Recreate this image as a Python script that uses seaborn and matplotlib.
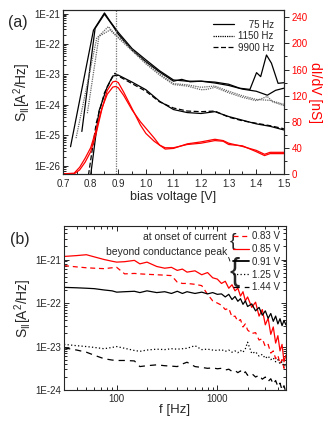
import numpy as np
import matplotlib
matplotlib.use('Agg')
import matplotlib.pyplot as plt
import seaborn as sns
from matplotlib.lines import Line2D
from matplotlib.ticker import FixedLocator, LogLocator, FuncFormatter, MultipleLocator, NullFormatter

sns.set_style('ticks')
plt.rcParams['font.family'] = ['Liberation Sans', 'DejaVu Sans']
plt.rcParams['mathtext.default'] = 'regular'

# ---- panel (a): noise power vs bias voltage (log10 of S_II) ----
v75a = [0.727, 0.81, 0.85, 0.87, 0.90, 0.95, 1.00, 1.05, 1.10, 1.15, 1.20, 1.25, 1.30, 1.34, 1.377, 1.401, 1.416, 1.437, 1.455, 1.479, 1.50]
s75a = [-25.37, -21.55, -20.98, -21.25, -21.62, -22.15, -22.52, -22.88, -23.18, -23.22, -23.22, -23.25, -23.32, -23.45, -23.49, -22.94, -23.07, -22.36, -22.63, -23.29, -23.27]
v75b = [0.768, 0.816, 0.85, 0.88, 0.90, 0.95, 1.00, 1.05, 1.10, 1.13, 1.16, 1.20, 1.25, 1.30, 1.35, 1.40, 1.44, 1.47, 1.50]
s75b = [-24.87, -21.49, -21.02, -21.4, -21.68, -22.2, -22.58, -22.92, -23.22, -23.16, -23.24, -23.22, -23.28, -23.36, -23.48, -23.55, -23.68, -23.52, -23.45]
v1150a = [0.747, 0.822, 0.864, 0.89, 0.92, 0.95, 1.00, 1.05, 1.10, 1.15, 1.20, 1.25, 1.30, 1.35, 1.40, 1.45, 1.50]
s1150a = [-25.09, -21.81, -21.43, -21.7, -21.92, -22.2, -22.62, -22.98, -23.3, -23.34, -23.42, -23.38, -23.55, -23.7, -23.82, -23.85, -23.98]
v1150b = [0.788, 0.83, 0.87, 0.90, 0.95, 1.00, 1.05, 1.10, 1.15, 1.20, 1.22, 1.25, 1.30, 1.35, 1.40, 1.44, 1.46, 1.50]
s1150b = [-24.27, -21.75, -21.54, -21.8, -22.22, -22.65, -23.02, -23.33, -23.38, -23.5, -23.49, -23.42, -23.6, -23.75, -23.86, -23.72, -23.9, -24.02]
v9900a = [0.792, 0.82, 0.85, 0.875, 0.888, 0.90, 0.95, 1.00, 1.05, 1.10, 1.15, 1.20, 1.25, 1.30, 1.35, 1.40, 1.45, 1.50]
s9900a = [-26.3, -24.6, -23.6, -23.15, -22.96, -23.05, -23.3, -23.55, -23.9, -24.1, -24.2, -24.22, -24.2, -24.4, -24.52, -24.6, -24.68, -24.78]
v9900b = [0.80, 0.83, 0.86, 0.88, 0.90, 0.95, 1.00, 1.05, 1.10, 1.15, 1.20, 1.25, 1.30, 1.35, 1.40, 1.45, 1.50]
s9900b = [-26.3, -24.2, -23.4, -23.05, -23.02, -23.25, -23.5, -23.88, -24.15, -24.25, -24.28, -24.22, -24.38, -24.5, -24.62, -24.7, -24.82]

# dI/dV in nS (right axis)
v_didv = [0.70, 0.74, 0.76, 0.78, 0.80, 0.82, 0.84, 0.86, 0.88, 0.89, 0.90, 0.92, 0.95, 0.98, 1.00, 1.03, 1.05, 1.07, 1.10, 1.15, 1.20, 1.25, 1.28, 1.30, 1.35, 1.40, 1.43, 1.45, 1.50]
didv_a = [0, 0, 6, 18, 34, 62, 98, 128, 141, 142, 140, 125, 100, 75, 62, 50, 44, 40, 40, 45, 47, 51, 50, 45, 43, 34, 28, 31, 31]
didv_b = [0, 1, 10, 24, 40, 68, 100, 122, 133, 134, 132, 120, 98, 80, 70, 55, 44, 38, 39, 46, 49, 53, 51, 47, 42, 36, 30, 33, 33]

# ---- panel (b): noise spectra (log10 of S_II) ----
freq = [30, 40, 50, 60, 75, 90, 100, 120, 150, 170, 200, 250, 300, 350, 400, 450, 500, 600, 700, 800, 900, 1000,
        1100, 1200, 1300, 1400, 1500, 1600, 1700, 1800, 1900, 2000, 2200, 2400, 2600, 2800, 3000, 3200, 3400, 3600,
        3800, 4000, 4200, 4400, 4600, 4800]
s083 = [-21.14, -21.17, -21.19, -21.20, -21.21, -21.19, -21.18, -21.33, -21.32, -21.33, -21.34, -21.35, -21.36, -21.37,
        -21.52, -21.55, -21.55, -21.57, -21.60, -21.80, -21.95, -22.00, -22.05, -22.15, -22.12, -22.32, -22.30, -22.42,
        -22.38, -22.55, -22.48, -22.62, -22.70, -22.68, -22.85, -22.82, -23.00, -22.95, -23.15, -23.10, -23.28, -23.20,
        -23.40, -23.30, -23.50, -23.40]
s085 = [-20.93, -20.91, -20.89, -20.94, -21.00, -21.04, -21.06, -21.05, -21.02, -21.10, -21.06, -21.16, -21.20, -21.18,
        -21.25, -21.22, -21.29, -21.26, -21.35, -21.30, -21.42, -21.45, -21.55, -21.50, -21.66, -21.58, -21.72, -21.66,
        -21.84, -21.74, -21.95, -21.86, -22.10, -21.98, -22.30, -22.15, -22.50, -22.35, -22.72, -22.55, -22.92, -22.75,
        -23.10, -22.95, -23.35, -23.20]
s091 = [-21.64, -21.65, -21.66, -21.67, -21.70, -21.72, -21.75, -21.74, -21.73, -21.76, -21.72, -21.76, -21.74, -21.78,
        -21.73, -21.78, -21.74, -21.78, -21.75, -21.79, -21.76, -21.80, -21.79, -21.86, -21.80, -21.92, -21.85, -21.96,
        -21.90, -22.03, -21.95, -22.08, -22.02, -22.18, -22.10, -22.28, -22.18, -22.35, -22.24, -22.42, -22.30, -22.48,
        -22.36, -22.52, -22.40, -22.50]
s125 = [-22.95, -22.98, -23.00, -23.02, -23.05, -23.02, -23.00, -23.04, -23.09, -23.11, -23.08, -23.06, -23.07, -23.05,
        -23.06, -23.05, -23.04, -22.98, -23.07, -23.06, -23.08, -23.09, -23.07, -23.11, -23.08, -23.13, -23.10, -23.14,
        -23.09, -23.13, -23.05, -22.90, -23.16, -23.12, -23.22, -23.18, -23.27, -23.22, -23.30, -23.26, -23.35, -23.30,
        -23.40, -23.35, -23.46, -23.42]
s144 = [-23.03, -23.08, -23.13, -23.20, -23.28, -23.31, -23.32, -23.32, -23.33, -23.46, -23.44, -23.42, -23.44, -23.45,
        -23.46, -23.40, -23.36, -23.46, -23.48, -23.50, -23.49, -23.51, -23.50, -23.54, -23.52, -23.57, -23.55, -23.60,
        -23.56, -23.63, -23.58, -23.66, -23.62, -23.70, -23.66, -23.75, -23.70, -23.80, -23.74, -23.86, -23.78, -23.92,
        -23.84, -24.00, -23.90, -24.05]

ticks_a = [1e-26, 1e-25, 1e-24, 1e-23, 1e-22, 1e-21]
ticks_b = [1e-24, 1e-23, 1e-22, 1e-21]

fig = plt.figure(figsize=(3.32, 4.24), dpi=100)
axa = fig.add_axes([0.190, 0.590, 0.665, 0.386])
axb = fig.add_axes([0.193, 0.080, 0.668, 0.387])

exp_fmt = FuncFormatter(lambda v, p: f"1E{int(round(np.log10(v)))}")
lw = 0.9
dot = (0, (1, 0.8))

# panel (a)
axa.set_yscale('log')
sns.lineplot(x=v75a, y=10.0 ** np.array(s75a), ax=axa, color='black', lw=lw)
sns.lineplot(x=v75b, y=10.0 ** np.array(s75b), ax=axa, color='black', lw=lw)
sns.lineplot(x=v1150a, y=10.0 ** np.array(s1150a), ax=axa, color='0.4', lw=lw, linestyle=dot)
sns.lineplot(x=v1150b, y=10.0 ** np.array(s1150b), ax=axa, color='0.4', lw=lw, linestyle=dot)
sns.lineplot(x=v9900a, y=10.0 ** np.array(s9900a), ax=axa, color='black', lw=lw, linestyle=(0, (4, 2)))
sns.lineplot(x=v9900b, y=10.0 ** np.array(s9900b), ax=axa, color='black', lw=lw)
axa.axvline(0.89, color='0.45', lw=0.9, linestyle=(0, (1, 1)))
axa.set_xlim(0.7, 1.5)
axa.set_ylim(10 ** -26.26, 10 ** -20.89)
axa.yaxis.set_major_locator(FixedLocator(ticks_a))
axa.yaxis.set_minor_locator(LogLocator(base=10, subs=np.arange(2, 10), numticks=10))
axa.yaxis.set_major_formatter(exp_fmt)
axa.yaxis.set_minor_formatter(NullFormatter())
axa.xaxis.set_major_locator(MultipleLocator(0.1))
axa.xaxis.set_minor_locator(MultipleLocator(0.05))
axa.xaxis.set_major_formatter(FuncFormatter(lambda v, p: f"{v:.1f}"))
axa.tick_params(which='both', direction='in', labelsize=7, width=0.7)
axa.tick_params(axis='x', pad=4)
axa.tick_params(axis='y', pad=2)
axa.tick_params(which='major', length=3.5)
axa.tick_params(which='minor', length=2)
axa.set_xlabel('bias voltage [V]', fontsize=9, labelpad=1)
axa.set_ylabel('S$_{II}$[A$^{2}$/Hz]', fontsize=10, labelpad=1)

axr = axa.twinx()
sns.lineplot(x=v_didv, y=didv_a, ax=axr, color='red', lw=lw)
sns.lineplot(x=v_didv, y=didv_b, ax=axr, color='red', lw=lw)
axr.set_ylim(0, 251)
axr.yaxis.set_major_locator(MultipleLocator(40))
axr.yaxis.set_minor_locator(MultipleLocator(20))
axr.tick_params(which='both', direction='out', labelsize=7, labelcolor='red', width=0.7, pad=2)
axr.tick_params(which='major', length=3.5)
axr.tick_params(which='minor', length=2)
axr.set_ylabel('dI/dV [nS]', color='red', fontsize=10, rotation=270, labelpad=10)
for sp in axr.spines.values():
    sp.set_linewidth(0.8)

handles_a = [Line2D([], [], color='black', lw=lw),
             Line2D([], [], color='black', lw=lw, linestyle=dot),
             Line2D([], [], color='black', lw=lw, linestyle=(0, (4, 2)))]
axa.legend(handles_a, ['\u2007\u200775 Hz', '1150 Hz', '9900 Hz'], loc='upper right', frameon=False,
           fontsize=7, handlelength=2.1, handletextpad=0.4, labelspacing=0.15, borderaxespad=0.6)

# panel (b)
axb.set_xscale('log')
axb.set_yscale('log')
sns.lineplot(x=freq, y=10.0 ** np.array(s083), ax=axb, color='red', lw=lw, linestyle=(0, (4, 3)))
sns.lineplot(x=freq, y=10.0 ** np.array(s085), ax=axb, color='red', lw=lw)
sns.lineplot(x=freq, y=10.0 ** np.array(s091), ax=axb, color='black', lw=lw)
sns.lineplot(x=freq, y=10.0 ** np.array(s125), ax=axb, color='black', lw=lw, linestyle=(0, (1, 1.8)))
sns.lineplot(x=freq, y=10.0 ** np.array(s144), ax=axb, color='black', lw=lw, linestyle=(0, (5, 4)))
axb.set_xlim(30, 4800)
axb.set_ylim(1e-24, 10 ** -20.23)
axb.xaxis.set_major_locator(FixedLocator([100, 1000]))
axb.xaxis.set_minor_locator(LogLocator(base=10, subs=np.arange(2, 10), numticks=10))
axb.yaxis.set_major_locator(FixedLocator(ticks_b))
axb.yaxis.set_minor_locator(LogLocator(base=10, subs=np.arange(2, 10), numticks=10))
axb.yaxis.set_major_formatter(exp_fmt)
axb.yaxis.set_minor_formatter(NullFormatter())
axb.xaxis.set_major_formatter(FuncFormatter(lambda v, p: f"{int(v)}"))
axb.xaxis.set_minor_formatter(NullFormatter())
axb.tick_params(which='both', direction='in', labelsize=7, width=0.7, right=True, top=True)
axb.tick_params(axis='x', pad=3)
axb.tick_params(axis='y', pad=2)
axb.tick_params(which='major', length=3.5)
axb.tick_params(which='minor', length=2)
axb.set_xlabel('f [Hz]', fontsize=9.5, labelpad=0)
axb.set_ylabel('S$_{II}$[A$^{2}$/Hz]', fontsize=10, labelpad=1)

handles_b = [Line2D([], [], color='red', lw=lw, linestyle=(0, (4, 3))),
             Line2D([], [], color='red', lw=lw),
             Line2D([], [], color='black', lw=1.3),
             Line2D([], [], color='black', lw=lw, linestyle=(0, (1, 1.8))),
             Line2D([], [], color='black', lw=lw, linestyle=(0, (5, 4)))]
axb.legend(handles_b, ['0.83 V', '0.85 V', '0.91 V', '1.25 V', '1.44 V'], loc='upper right', frameon=False,
           fontsize=7, handlelength=1.7, handletextpad=0.3, labelspacing=0.28, borderaxespad=0.15)
axb.text(0.735, 0.933, 'at onset of current', transform=axb.transAxes, ha='right', va='center', fontsize=7.5)
axb.text(0.762, 0.905, '{', transform=axb.transAxes, ha='center', va='center', fontsize=14)
axb.text(0.735, 0.843, 'beyond conductance peak', transform=axb.transAxes, ha='right', va='center', fontsize=7.5)
axb.text(0.768, 0.722, '{', transform=axb.transAxes, ha='center', va='center', fontsize=22)
axb.annotate('', xy=(0.752, 0.77), xytext=(0.738, 0.825), xycoords='axes fraction',
             arrowprops=dict(arrowstyle='-', lw=0.6, color='black'))

for ax in (axa, axb):
    for sp in ax.spines.values():
        sp.set_linewidth(0.8)

fig.text(0.025, 0.948, '(a)', fontsize=11.5, va='center')
fig.text(0.03, 0.434, '(b)', fontsize=11.5, va='center')

fig.savefig('out.png', dpi=100)
